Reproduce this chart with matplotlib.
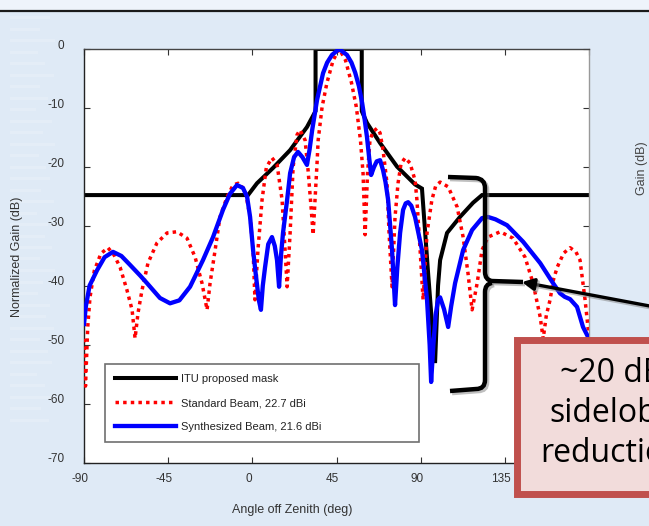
import matplotlib
matplotlib.use("Agg")
import matplotlib.pyplot as plt
from matplotlib.patches import Rectangle, FancyArrowPatch, PathPatch
from matplotlib.path import Path
from matplotlib.lines import Line2D
from matplotlib.transforms import ScaledTranslation
import matplotlib.patheffects as pe

W, H, DPI = 649, 526, 100

# ---------------- data ----------------
mask_angle = [-90, -2.3, 2.5, 11.1, 20.2, 29.2, 33.8, 33.8, 58.5, 58.5, 61.3, 68.3,
              77.4, 87, 90.7, 94, 97.7, 99.3, 100.4, 104.1, 111, 118, 122.8, 180]
mask_gain = [-24.7, -24.7, -22.7, -20.1, -17.1, -13.2, -10.5, 0, 0, -10.5, -12.5, -15.9,
             -19.9, -22.9, -23.6, -38, -53.1, -40, -35.7, -31.1, -28.4, -26, -24.7, -24.7]

std_angle = [-90, -89.2, -88, -86.8, -84.5, -81, -77.2, -74, -70.7, -67, -64.3, -62.7,
             -61.1, -59, -55.8, -51, -45.6, -40.3, -34.9, -30.6, -26.9, -24.2, -22.6,
             -19.9, -17.3, -13.5, -10.3, -7.6, -3.9, -1.2, 0.4, 1.4, 3, 5.2, 7.5, 10.5,
             13.2, 15.9, 17.5, 18.6, 20.2, 21.8, 23.9, 25.5, 28.2, 29.8, 31.4, 32.5,
             34.6, 35.2, 37.3, 39.9, 43.2, 46.5, 49.8, 53, 55.6, 57.8, 59.2, 60.3, 61.6,
             62.9, 64.5, 66.7, 68.3, 69.9, 72, 73.1, 74.7, 76.3, 77.9, 79.5, 81.7, 84.3,
             87, 88, 89.7, 91.3, 93.4, 96, 98, 100.4, 104.7, 109.5, 112.7, 115.3, 117.5,
             120.2, 122.8, 126, 132.5, 139.4, 145.8, 150.1, 153.9, 155.5, 157.2, 159.2,
             161, 163, 166.5, 169.9, 173, 175.2, 177.9, 180]
std_gain = [-49, -57, -47, -42, -37.5, -34.6, -33.6, -34.8, -36.9, -40.8, -44.1, -48.9,
            -44.6, -40.8, -36.2, -32.8, -31.1, -30.9, -32, -35.2, -39.6, -44.1, -39.6,
            -34, -28.4, -25, -23, -22.7, -23.8, -28.4, -34, -42.4, -34, -25.5, -20, -18.4,
            -19.5, -25.5, -34, -40.2, -31.1, -20, -14.5, -13.7, -15.4, -20.5, -26.7, -31.4,
            -19.3, -15.4, -9.8, -5.7, -1.9, 0, -1.9, -5.7, -9.8, -15.4, -21, -31.4, -21,
            -15.4, -14, -13.4, -14.2, -17.1, -22.7, -31.1, -40.2, -28.4, -22.7, -19.4,
            -18.4, -19.3, -22.2, -25.5, -34, -42.4, -31.1, -25.5, -23.2, -22.5, -23.3,
            -26.7, -31.8, -37.9, -44.1, -39.6, -34, -31.8, -30.9, -32, -35.2, -39.6, -45.3,
            -49, -45, -42.4, -39, -36.9, -34.5, -33.6, -34.3, -35.7, -42.4, -48.7]

syn_angle = [-90, -89, -87, -83, -79, -74.5, -70, -65.4, -60, -56.3, -49.4, -44, -39,
             -33.3, -26.4, -21, -15.7, -12, -8.2, -5, -2.8, -1.2, 0.4, 1.8, 3.5, 4.6, 5.6,
             6.8, 8.5, 10.5, 12, 13.2, 14.3, 15.3, 16.4, 18.6, 20.2, 22.3, 24.4, 26.8,
             29.2, 30.6, 32, 34.6, 37.8, 40, 42.6, 46.4, 50.6, 53, 55, 57, 58.7, 60, 61.3,
             62.5, 63.5, 65, 66.5, 68.3, 69.9, 71.2, 72.6, 74.7, 76.3, 77.5, 79, 80.6, 82,
             83.3, 85, 87, 90.7, 93.4, 94.8, 95.6, 96.8, 98, 99.3, 100.4, 102.5, 104.7,
             106.3, 108.4, 112.7, 117.5, 122.8, 126, 130, 136.2, 144.8, 153.9, 160.8,
             164.5, 167, 169.9, 173.6, 176.8, 180]
syn_gain = [-46.5, -43.5, -40, -37.4, -35.2, -34.3, -35, -36.5, -38.3, -39.6, -42.1, -43,
            -42.5, -40.2, -35.7, -31.8, -27.2, -24.5, -23, -23.5, -25, -28.4, -34, -38,
            -42.5, -44.1, -40, -36.9, -33, -31.8, -33.3, -35.7, -40.2, -35, -31.1, -25.5,
            -21, -18.3, -17.4, -18.3, -19.6, -17, -13.7, -8.6, -4.1, -2.3, -1, 0, -1, -2.3,
            -4, -6.3, -9.1, -11.8, -14.9, -18.5, -21.3, -20, -19, -18.8, -20.5, -22.5,
            -25.5, -34, -43.3, -37, -31.1, -27.2, -26.1, -25.9, -26.5, -28.4, -34, -42.4,
            -50, -56.3, -50, -45, -42.4, -42, -44, -47, -43.5, -39.6, -34, -30.6, -28.6,
            -28.4, -28.8, -29.8, -32.6, -36.2, -39.6, -41.3, -41.9, -42.3, -43.6, -47, -49]

x_ticks = [-90, -45, 0, 45, 90, 135, 180]
y_ticks = [0, -10, -20, -30, -40, -50, -60, -70]
series_labels = ["ITU proposed mask", "Standard Beam, 22.7 dBi", "Synthesized Beam, 21.6 dBi"]
box_lines = ["~20 dB", "sidelobe", "reduction"]

# ---------------- figure ----------------
plt.rcParams["font.family"] = ["Liberation Sans", "DejaVu Sans"]
plt.rcParams["axes.unicode_minus"] = False
fig = plt.figure(figsize=(W / DPI, H / DPI), dpi=DPI)
fig.patch.set_facecolor("#dfeaf6")


def fx(px):
    return px / W


def fy(py):
    return 1 - py / H


# slide background decorations
fig.add_artist(Rectangle((0, fy(11)), 1, 11 / H, transform=fig.transFigure,
                         facecolor="#eef4fb", edgecolor="none", zorder=-5))
fig.add_artist(Line2D([0, 1], [fy(11), fy(11)], transform=fig.transFigure,
                      color="#1a1a1a", lw=1.6, zorder=-4))
stripe_w = [40, 30, 45, 28, 35, 44, 30, 38, 26, 42, 33, 45, 29, 36, 40, 31, 44, 27,
            38, 35, 42, 30, 45, 33, 28, 40, 36, 44, 30, 38, 42, 27, 35, 45, 31, 39]
for i, w in enumerate(stripe_w):
    yy = 16 + i * 11.5
    fig.add_artist(Rectangle((fx(10), fy(yy + 3)), w / W, 3 / H, transform=fig.transFigure,
                             facecolor="white", edgecolor="none", alpha=0.18, zorder=-4))

ax = fig.add_axes([fx(84), fy(463), (589 - 84) / W, (463 - 49) / H])
ax.set_facecolor("white")

ax.plot(mask_angle, mask_gain, color="black", lw=2.9, label=series_labels[0],
        solid_joinstyle="miter", zorder=2)
ax.plot(std_angle, std_gain, color="#ff0000", lw=2.5, linestyle=(0, (1, 1.2)),
        label=series_labels[1], zorder=3)
ax.plot(syn_angle, syn_gain, color="#0000ff", lw=3.1, label=series_labels[2], zorder=4)

ax.set_xlim(-90, 180)
ax.set_ylim(-70, 0)
ax.set_xticks(x_ticks)
ax.set_yticks(y_ticks)
ax.tick_params(which="both", direction="in", top=True, right=True, length=4,
               width=0.8, labelsize=8.5, labelcolor="#333333", color="#333333")
ax.tick_params(axis="x", pad=7)
ax.tick_params(axis="y", pad=14)
for side, col in [("left", "#222222"), ("bottom", "#222222"), ("top", "#444444"),
                  ("right", "#999999")]:
    ax.spines[side].set_color(col)
    ax.spines[side].set_linewidth(1.0)

for lbl in ax.get_yticklabels():
    lbl.set_transform(lbl.get_transform() + ScaledTranslation(0, 5 / DPI, fig.dpi_scale_trans))
for lbl in ax.get_xticklabels():
    lbl.set_transform(lbl.get_transform() + ScaledTranslation(-4 / DPI, 0, fig.dpi_scale_trans))

ax.set_xlabel("Angle off Zenith (deg)", fontsize=9, color="#333333")
ax.xaxis.label.set_va("center")
ax.xaxis.set_label_coords((292 - 84) / 505, (463 - 510) / 414)
ax.set_ylabel("Normalized Gain (dB)", fontsize=9, color="#333333")
ax.yaxis.label.set_va("center")
ax.yaxis.set_label_coords((17 - 84) / 505, (463 - 257) / 414)

leg = ax.legend(loc="lower left", bbox_to_anchor=((105 - 84) / 505, (463 - 442) / 414,
                                                  314 / 505, 83 / 414),
                mode="expand", fontsize=8, handlelength=5.5, handletextpad=0.45,
                labelspacing=1.25, borderpad=0.9, borderaxespad=0, fancybox=False,
                framealpha=1, edgecolor="#707070")
leg.get_frame().set_linewidth(1.2)
for t in leg.get_texts():
    t.set_color("#222222")

# right-hand fragment of neighbouring chart label
fig.text(fx(642), fy(168), "Gain (dB)", rotation=90, ha="center", va="center",
         fontsize=9, color="#444444")

# ---------------- annotation: brace, arrow, text box ----------------
def P(px, py):
    return (fx(px), fy(py))


brace_top = Path([P(448, 177), P(476, 178), P(485, 179), P(485, 188), P(485, 272),
                  P(485, 280), P(492, 281), P(523, 282)],
                 [Path.MOVETO, Path.LINETO, Path.CURVE3, Path.CURVE3, Path.LINETO,
                  Path.CURVE3, Path.CURVE3, Path.LINETO])
brace_bot = Path([P(492, 283), P(485, 284), P(485, 292), P(485, 380), P(485, 389),
                  P(476, 389), P(450, 391)],
                 [Path.MOVETO, Path.CURVE3, Path.CURVE3, Path.LINETO, Path.CURVE3,
                  Path.CURVE3, Path.LINETO])
shadow = [pe.SimpleLineShadow(offset=(1.5, -1.5), shadow_color="#808080", alpha=0.5),
          pe.Normal()]
for pth in (brace_top, brace_bot):
    fig.add_artist(PathPatch(pth, transform=fig.transFigure, facecolor="none",
                             edgecolor="black", lw=3.2, capstyle="butt",
                             path_effects=shadow, zorder=5))

arrow = FancyArrowPatch(P(655, 307), P(522, 282), transform=fig.transFigure,
                        arrowstyle="-|>,head_length=7,head_width=3.5", color="black",
                        lw=2.4, shrinkA=0, shrinkB=0, zorder=6,
                        path_effects=shadow)
fig.add_artist(arrow)

box = Rectangle(P(516.5, 493.5), (720 - 516.5) / W, (493.5 - 339.5) / H,
                transform=fig.transFigure, facecolor="#f2dcdb", edgecolor="#c0504d",
                lw=5.0, zorder=7)
fig.add_artist(box)
for txt, yy in zip(box_lines, [373, 414, 453]):
    fig.text(fx(612), fy(yy), txt, ha="center", va="center", fontsize=23,
             family=["Open Sans", "DejaVu Sans"], color="black", zorder=8)

fig.savefig("out.png", dpi=DPI, facecolor=fig.get_facecolor())
